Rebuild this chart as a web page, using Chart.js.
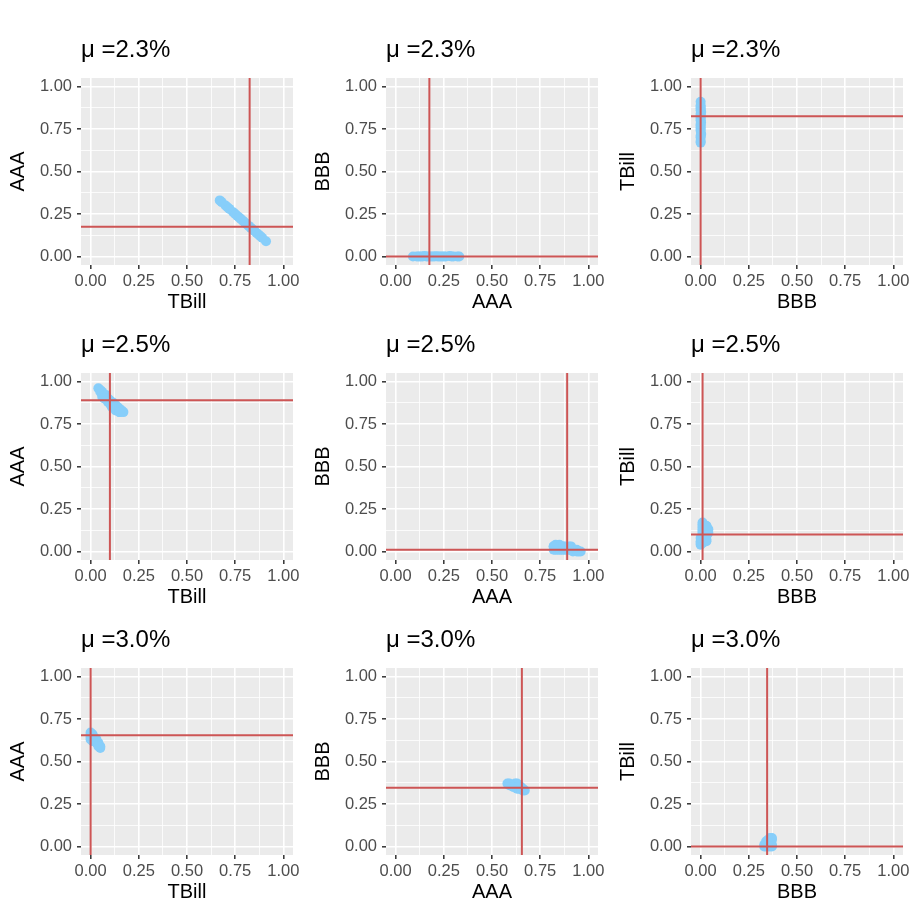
<!DOCTYPE html>
<html>
<head>
<meta charset="utf-8">
<script src="https://cdn.jsdelivr.net/npm/chart.js@4.4.1/dist/chart.umd.min.js"></script>
<style>
    body { margin: 0; background: #ffffff; }
    #grid { position: relative; width: 913px; height: 913px; }
    .panel { position: absolute; width: 305px; height: 295px; }
</style>
</head>
<body>
<div id="grid"></div>
<script>
// bootstrap portfolio weights, one row of panels per target return
const tbill23 = [0.67, 0.68, 0.70, 0.71, 0.72, 0.74, 0.75, 0.76, 0.77, 0.78, 0.79, 0.80, 0.81, 0.82, 0.83, 0.84, 0.85, 0.86, 0.87, 0.88, 0.89, 0.91];
const aaa23 = [0.33, 0.32, 0.30, 0.29, 0.28, 0.26, 0.25, 0.24, 0.23, 0.22, 0.21, 0.20, 0.19, 0.18, 0.17, 0.16, 0.15, 0.14, 0.13, 0.12, 0.11, 0.09];
const bbb23 = [0, 0, 0, 0, 0.003, 0, 0, 0, 0, 0, 0.002, 0, 0, 0, 0, 0, 0.003, 0, 0, 0, 0, 0];

const tbill25 = [0.04, 0.05, 0.05, 0.06, 0.07, 0.08, 0.09, 0.10, 0.11, 0.12, 0.13, 0.14, 0.15, 0.16, 0.12, 0.13, 0.14, 0.10, 0.15, 0.08, 0.17, 0.11, 0.06, 0.09, 0.13, 0.11, 0.07, 0.15];
const aaa25 = [0.96, 0.95, 0.94, 0.94, 0.92, 0.92, 0.90, 0.89, 0.88, 0.87, 0.86, 0.85, 0.84, 0.83, 0.85, 0.84, 0.83, 0.87, 0.82, 0.90, 0.82, 0.86, 0.91, 0.88, 0.83, 0.85, 0.90, 0.82];
const bbb25 = [0.00, 0.00, 0.01, 0.00, 0.01, 0.00, 0.01, 0.01, 0.01, 0.01, 0.01, 0.01, 0.01, 0.01, 0.03, 0.03, 0.03, 0.03, 0.03, 0.02, 0.01, 0.03, 0.03, 0.03, 0.04, 0.04, 0.03, 0.03];

const tbill30 = [0.00, 0.00, 0.00, 0.01, 0.01, 0.01, 0.02, 0.02, 0.02, 0.03, 0.03, 0.03, 0.04, 0.04, 0.05, 0.05, 0.00, 0.01, 0.04, 0.00];
const aaa30 = [0.67, 0.66, 0.65, 0.66, 0.64, 0.65, 0.63, 0.64, 0.62, 0.62, 0.61, 0.63, 0.60, 0.61, 0.59, 0.58, 0.63, 0.62, 0.59, 0.64];
const bbb30 = [0.33, 0.34, 0.35, 0.33, 0.35, 0.34, 0.35, 0.34, 0.36, 0.35, 0.36, 0.34, 0.36, 0.35, 0.36, 0.37, 0.37, 0.37, 0.37, 0.36];

// red reference lines (target weights)
const muLabels = ['2.3%', '2.5%', '3.0%'];
const targetTbill = [0.825, 0.10, 0.0];
const targetAaa = [0.175, 0.89, 0.655];
const targetBbb = [0.0, 0.01, 0.345];

const majorTicks = [0, 0.25, 0.5, 0.75, 1];
const minorTicks = [0.125, 0.375, 0.625, 0.875];

const weights = [
    { TBill: tbill23, AAA: aaa23, BBB: bbb23 },
    { TBill: tbill25, AAA: aaa25, BBB: bbb25 },
    { TBill: tbill30, AAA: aaa30, BBB: bbb30 }
];
const targets = [0, 1, 2].map(i => ({ TBill: targetTbill[i], AAA: targetAaa[i], BBB: targetBbb[i] }));
const pairs = [['TBill', 'AAA'], ['AAA', 'BBB'], ['BBB', 'TBill']];

Chart.defaults.font.family = '"Liberation Sans", Arial, sans-serif';

function isMajor(v) {
    return majorTicks.some(m => Math.abs(m - v) < 1e-9);
}

const panelBackground = {
    id: 'panelBackground',
    beforeDraw(chart) {
        const { ctx, chartArea } = chart;
        ctx.save();
        ctx.fillStyle = '#EBEBEB';
        ctx.fillRect(chartArea.left, chartArea.top, chartArea.right - chartArea.left, chartArea.bottom - chartArea.top);
        ctx.restore();
    }
};

const panelTitle = {
    id: 'panelTitle',
    afterDraw(chart, args, opts) {
        const { ctx, chartArea } = chart;
        ctx.save();
        ctx.fillStyle = '#000000';
        ctx.font = '24px "Liberation Sans", Arial, sans-serif';
        ctx.textBaseline = 'middle';
        ctx.textAlign = 'left';
        ctx.fillText(opts.text, chartArea.left, 20);
        ctx.restore();
    }
};

function axisOptions(label, horizontal) {
    return {
        type: 'linear',
        min: -0.05,
        max: 1.05,
        afterBuildTicks: axis => {
            axis.ticks = majorTicks.concat(minorTicks).sort((a, b) => a - b).map(v => ({ value: v }));
        },
        afterFit: axis => {
            if (horizontal) axis.height = 49;
            else axis.width = 81;
        },
        ticks: {
            autoSkip: false,
            maxRotation: 0,
            padding: horizontal ? 3 : 5,
            color: '#4D4D4D',
            font: { size: 16.5 },
            callback: v => isMajor(v) ? v.toFixed(2) : ''
        },
        grid: {
            color: '#FFFFFF',
            lineWidth: ctx => (ctx.tick && isMajor(ctx.tick.value)) ? 1.6 : 0.8,
            tickColor: ctx => (ctx.tick && isMajor(ctx.tick.value)) ? '#333333' : 'rgba(0,0,0,0)',
            tickLength: 4,
            tickWidth: 1.5
        },
        border: { display: false },
        title: {
            display: true,
            text: label,
            color: '#000000',
            font: { size: 20 },
            padding: horizontal ? { top: 0, bottom: 0 } : { top: 6, bottom: 0 }
        }
    };
}

function renderPanel(row, col) {
    const [xKey, yKey] = pairs[col];
    const w = weights[row];
    const t = targets[row];

    const div = document.createElement('div');
    div.className = 'panel';
    div.style.left = (col * 305) + 'px';
    div.style.top = (30 + row * 295) + 'px';
    const canvas = document.createElement('canvas');
    div.appendChild(canvas);
    document.getElementById('grid').appendChild(div);

    const points = w[xKey].map((x, i) => ({ x: x, y: w[yKey][i] }));

    new Chart(canvas, {
        type: 'scatter',
        data: {
            datasets: [
                {
                    data: [{ x: t[xKey], y: -0.05 }, { x: t[xKey], y: 1.05 }],
                    showLine: true,
                    borderColor: '#CD5555',
                    borderWidth: 2,
                    pointRadius: 0,
                    order: 0
                },
                {
                    data: [{ x: -0.05, y: t[yKey] }, { x: 1.05, y: t[yKey] }],
                    showLine: true,
                    borderColor: '#CD5555',
                    borderWidth: 2,
                    pointRadius: 0,
                    order: 0
                },
                {
                    data: points,
                    backgroundColor: '#87CEFA',
                    borderWidth: 0,
                    pointRadius: 5,
                    order: 1
                }
            ]
        },
        options: {
            animation: false,
            responsive: true,
            maintainAspectRatio: false,
            layout: { padding: { top: 48, right: 12, bottom: 11, left: 0 } },
            plugins: {
                legend: { display: false },
                tooltip: { enabled: false },
                panelTitle: { text: 'μ =' + muLabels[row] }
            },
            scales: {
                x: axisOptions(xKey, true),
                y: axisOptions(yKey, false)
            }
        },
        plugins: [panelBackground, panelTitle]
    });
}

for (let r = 0; r < 3; r++) {
    for (let c = 0; c < 3; c++) {
        renderPanel(r, c);
    }
}
</script>
</body>
</html>
